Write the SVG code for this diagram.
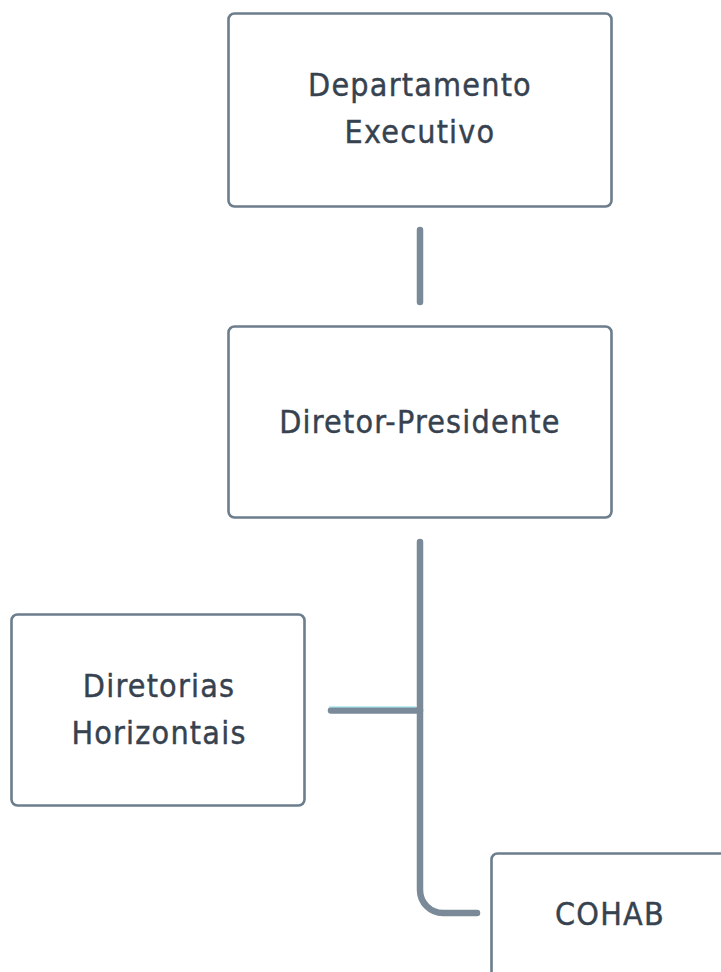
<svg xmlns="http://www.w3.org/2000/svg" width="721" height="972" viewBox="0 0 721 972">
  <style>
    .box { fill: #ffffff; stroke: #6c7d8c; stroke-width: 2.6; }
    .label { font-family: "DejaVu Sans Condensed", "DejaVu Sans", sans-serif; font-size: 32px; fill: #36424f; stroke: #36424f; stroke-width: 0.4; text-anchor: middle; letter-spacing: 1.2px; }
    .link { fill: none; stroke: #7a8a99; stroke-width: 6.5; stroke-linecap: round; stroke-linejoin: round; }
    .glint { fill: none; stroke: #86dbe6; stroke-width: 1.2; }
  </style>
  <rect width="721" height="972" fill="#ffffff"/>

  <g id="connectors">
    <path class="link" d="M420 230 V302"/>
    <path class="link" d="M420 542 V890 A23 23 0 0 0 443 913 H477"/>
    <path class="link" d="M331 710.5 H420"/>
    <path class="glint" d="M329 707 H416"/>
  </g>

  <g id="departamento-executivo">
    <rect class="box" x="228.5" y="13.5" width="383" height="193" rx="6"/>
    <text class="label" x="420" y="96">Departamento</text>
    <text class="label" x="420" y="143">Executivo</text>
  </g>

  <g id="diretor-presidente">
    <rect class="box" x="228.5" y="326.5" width="383" height="191" rx="6"/>
    <text class="label" x="420" y="433">Diretor-Presidente</text>
  </g>

  <g id="diretorias-horizontais">
    <rect class="box" x="11.5" y="614.5" width="293" height="191" rx="6"/>
    <text class="label" x="159" y="697">Diretorias</text>
    <text class="label" x="159" y="744">Horizontais</text>
  </g>

  <g id="cohab">
    <rect class="box" x="491.5" y="853.5" width="260" height="140" rx="6"/>
    <text class="label" x="610" y="925">COHAB</text>
  </g>
</svg>
